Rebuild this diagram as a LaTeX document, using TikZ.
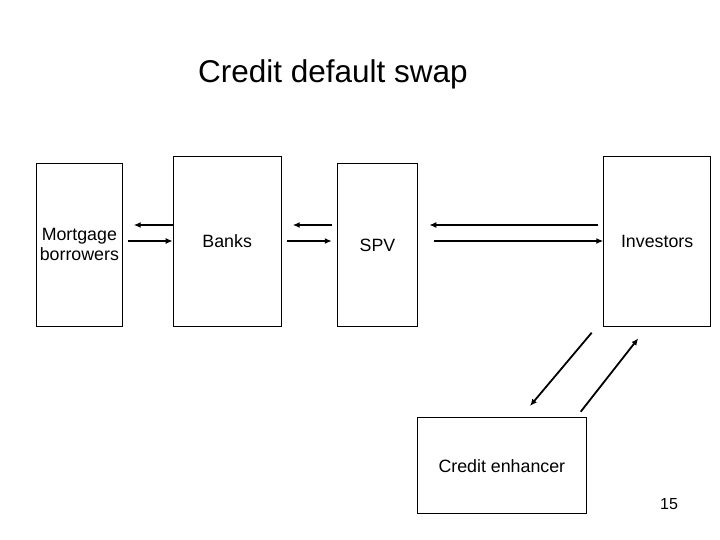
\documentclass[tikz,border=0pt]{standalone}
\usepackage{fontspec}
\setmainfont{Liberation Sans}
\usetikzlibrary{arrows.meta}
\begin{document}
\begin{tikzpicture}[x=1pt,y=-1pt,
  box/.style={draw=black, line width=1pt, inner sep=0pt, anchor=north west, align=center,
    font=\fontsize{17.8}{20}\selectfont},
  arr/.style={line width=1.8pt, -{Latex[length=7pt,width=6pt]}}]
\useasboundingbox (0,0) rectangle (720,540);
\node[font=\fontsize{31.5}{36}\selectfont, anchor=base] (title) at (333,83) {Credit default swap};
\node[box, minimum width=85.7pt, minimum height=163.5pt] (mort) at (36,162.7) {Mortgage\\borrowers};
\node[box, minimum width=108pt, minimum height=170pt] (banks) at (172.7,156) {Banks};
\node[box, minimum width=79.4pt, minimum height=163.5pt] (spv) at (337.3,162.7) {SPV};
\node[box, minimum width=106.7pt, minimum height=170pt] (inv) at (603.3,156) {Investors};
\node[box, minimum width=169.3pt, minimum height=96pt] (ce) at (416.7,417.3) {Credit enhancer};
\node[font=\fontsize{16}{18}\selectfont] (pg) at (669,504) {15};
% mortgage <-> banks
\draw[arr, shorten >=11pt] (banks.west |- 0,225) -- (mort.east |- 0,225);
\draw[arr, shorten <=5pt] (mort.east |- 0,241) -- (banks.west |- 0,241);
% banks <-> spv
\draw[arr, shorten <=5.5pt, shorten >=11pt] (spv.west |- 0,225) -- (banks.east |- 0,225);
\draw[arr, shorten <=5.3pt, shorten >=5.5pt] (banks.east |- 0,241) -- (spv.west |- 0,241);
% spv <-> investors
\draw[arr, shorten <=5pt, shorten >=11.6pt] (inv.west |- 0,225) -- (spv.east |- 0,225);
\draw[arr, shorten <=16.6pt] (spv.east |- 0,241) -- (inv.west |- 0,241);
% investors <-> credit enhancer
\coordinate (d1s) at (591.7,332.7);
\coordinate (d1e) at (530,406);
\coordinate (d2s) at (580.7,411.7);
\coordinate (d2e) at (638.3,338.3);
\draw[arr] (d1s) -- (d1e);
\draw[arr] (d2s) -- (d2e);
\end{tikzpicture}
\end{document}
